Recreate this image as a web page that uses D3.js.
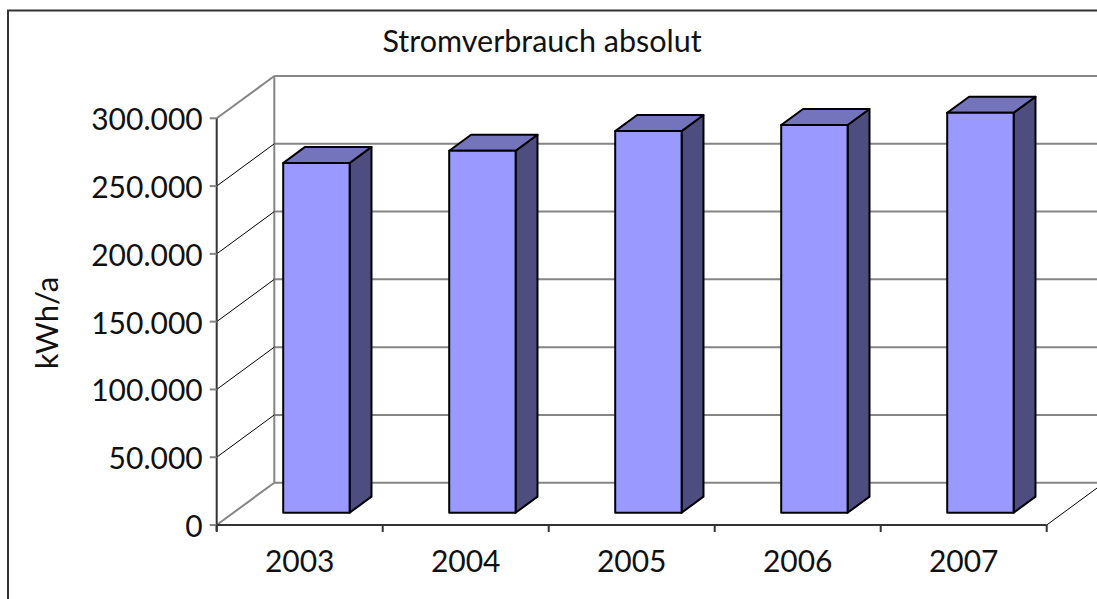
<!DOCTYPE html>
<meta charset="utf-8">
<style>
  body { margin: 0; background: #fff; }
  svg { display: block; }
  text { font-family: Lato, "Open Sans", sans-serif; fill: #111; }
</style>
<body>
<script src="https://d3js.org/d3.v7.min.js"></script>
<script>
// data
var years = ["2003", "2004", "2005", "2006", "2007"];
var verbrauch = [258000, 267000, 281500, 286000, 295000];
var yTicks = [0, 50000, 100000, 150000, 200000, 250000, 300000];

var width = 1097, height = 599;

// 3d offset of the back wall (px)
var depth = {dx: 57.6, dy: -42.3};
var barFront = 0.29, barDepth = 0.38;   // fractions of wall depth

var svg = d3.select("body").append("svg")
    .attr("width", width)
    .attr("height", height);

var x = d3.scaleBand()
    .domain(years)
    .range([216.7, 1046.7])
    .padding(0);

var y = d3.scaleLinear()
    .domain([0, 300000])
    .range([525, 118.3]);

var fmt = function(v) { return d3.format(",")(v).replace(/,/g, "."); };

var x0 = x.range()[0], x1 = x.range()[1];

// back wall gridlines
svg.append("g").selectAll("line")
    .data(yTicks)
    .enter().append("line")
    .attr("x1", x0 + depth.dx)
    .attr("x2", x1 + depth.dx)
    .attr("y1", function(d) { return y(d) + depth.dy; })
    .attr("y2", function(d) { return y(d) + depth.dy; })
    .style("stroke", "#858585")
    .style("stroke-width", 2);

// back wall left edge
svg.append("line")
    .attr("x1", x0 + depth.dx).attr("x2", x0 + depth.dx)
    .attr("y1", y(0) + depth.dy).attr("y2", y(300000) + depth.dy)
    .style("stroke", "#858585")
    .style("stroke-width", 2);

// side wall gridlines
svg.append("g").selectAll("line")
    .data(yTicks)
    .enter().append("line")
    .attr("x1", x0)
    .attr("x2", x0 + depth.dx)
    .attr("y1", function(d) { return y(d); })
    .attr("y2", function(d) { return y(d) + depth.dy; })
    .style("stroke", function(d) { return (d == 0 || d == 300000) ? "#858585" : "#000"; })
    .style("stroke-width", function(d) { return (d == 0 || d == 300000) ? 2 : 1; });

// floor right edge
svg.append("line")
    .attr("x1", x1).attr("x2", x1 + depth.dx)
    .attr("y1", y(0)).attr("y2", y(0) + depth.dy)
    .style("stroke", "#000")
    .style("stroke-width", 1);

// bars
var bw = x.bandwidth() * 0.4;
var bars = svg.append("g").selectAll("g")
    .data(years.map(function(yr, i) { return {year: yr, value: verbrauch[i]}; }))
    .enter().append("g");

function pt(px, py) { return px + "," + py; }

bars.each(function(d) {
  var g = d3.select(this);
  var fx = x(d.year) + (x.bandwidth() - bw) / 2 + barFront * depth.dx;
  var fy0 = y(0) + barFront * depth.dy;
  var fy1 = y(d.value) + barFront * depth.dy;
  var ox = barDepth * depth.dx, oy = barDepth * depth.dy;

  g.append("polygon")
      .attr("points", [pt(fx + bw, fy0), pt(fx + bw + ox, fy0 + oy), pt(fx + bw + ox, fy1 + oy), pt(fx + bw, fy1)].join(" "))
      .style("fill", "#4d4d7f");
  g.append("polygon")
      .attr("points", [pt(fx, fy1), pt(fx + bw, fy1), pt(fx + bw + ox, fy1 + oy), pt(fx + ox, fy1 + oy)].join(" "))
      .style("fill", "#7474bd");
  g.append("rect")
      .attr("x", fx).attr("y", fy1)
      .attr("width", bw).attr("height", fy0 - fy1)
      .style("fill", "#9999ff");
  g.selectAll("polygon, rect")
      .style("stroke", "#000")
      .style("stroke-width", 2)
      .style("stroke-linejoin", "round");
});

// y axis
var yAxis = svg.append("g").attr("transform", "translate(" + x0 + ",0)");
yAxis.append("line")
    .attr("y1", y(300000)).attr("y2", y(0) + 6)
    .style("stroke", "#333").style("stroke-width", 2);
yAxis.selectAll(".tk").data(yTicks).enter().append("line")
    .attr("x1", -7).attr("x2", 0)
    .attr("y1", function(d) { return y(d); })
    .attr("y2", function(d) { return y(d); })
    .style("stroke", "#858585").style("stroke-width", 2);
yAxis.selectAll("text").data(yTicks).enter().append("text")
    .attr("x", -14)
    .attr("y", function(d) { return y(d) + 12; })
    .attr("text-anchor", "end")
    .style("font-size", "30px")
    .text(fmt);

// x axis
var xAxis = svg.append("g");
xAxis.append("line")
    .attr("x1", x0).attr("x2", x1)
    .attr("y1", y(0)).attr("y2", y(0))
    .style("stroke", "#333").style("stroke-width", 2);
xAxis.selectAll(".tk").data(years.concat(["end"])).enter().append("line")
    .attr("x1", function(d, i) { return x0 + i * x.step(); })
    .attr("x2", function(d, i) { return x0 + i * x.step(); })
    .attr("y1", y(0)).attr("y2", y(0) + 7)
    .style("stroke", "#333").style("stroke-width", 2);
xAxis.selectAll("text").data(years).enter().append("text")
    .attr("x", function(d) { return x(d) + x.bandwidth() / 2; })
    .attr("y", 572)
    .attr("text-anchor", "middle")
    .style("font-size", "30px")
    .text(function(d) { return d; });

// titles
svg.append("text")
    .attr("x", 542).attr("y", 52)
    .attr("text-anchor", "middle")
    .style("font-size", "30.5px")
    .text("Stromverbrauch absolut");

svg.append("text")
    .attr("transform", "translate(58,323) rotate(-90)")
    .attr("text-anchor", "middle")
    .style("font-size", "31px")
    .text("kWh/a");

// chart border
svg.append("rect")
    .attr("x", 8).attr("y", 10.5)
    .attr("width", 1300).attr("height", 800)
    .style("fill", "none")
    .style("stroke", "#333")
    .style("stroke-width", 2);
</script>
</body>
</html>
